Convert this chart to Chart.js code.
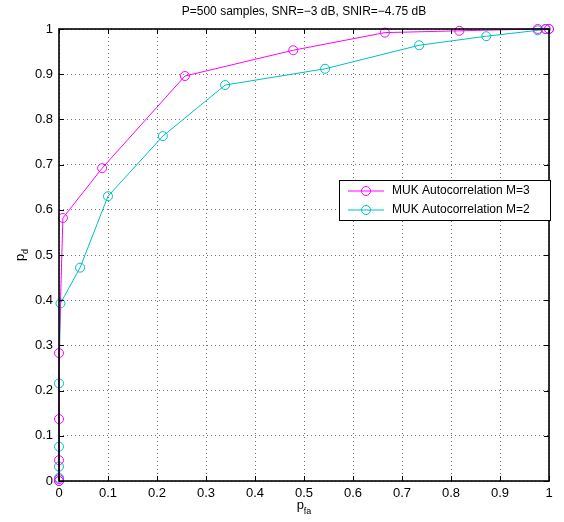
<!DOCTYPE html>
<html>
<head>
<meta charset="utf-8">
<script src="https://cdn.jsdelivr.net/npm/chart.js@4/dist/chart.umd.min.js"></script>
<style>
html,body{margin:0;padding:0;background:#fff;}
#wrap{width:564px;height:522px;}
</style>
</head>
<body>
<div id="wrap"><canvas id="c" width="564" height="522"></canvas></div>
<script>
const titleText = "P=500 samples, SNR=\u22123 dB, SNIR=\u22124.75 dB";
const xTitle = ["p", "fa"];
const yTitle = ["p", "d"];
const tickValues = [0, 0.1, 0.2, 0.3, 0.4, 0.5, 0.6, 0.7, 0.8, 0.9, 1];
const tickLabels = ["0", "0.1", "0.2", "0.3", "0.4", "0.5", "0.6", "0.7", "0.8", "0.9", "1"];

const seriesNames = ["MUK Autocorrelation M=3", "MUK Autocorrelation M=2"];
const m3X = [0, 0, 0, 0, 0, 0.008, 0.088, 0.257, 0.478, 0.665, 0.817, 0.977, 0.993, 1];
const m3Y = [0, 0.004, 0.046, 0.137, 0.283, 0.582, 0.692, 0.896, 0.953, 0.992, 0.996, 1, 1, 1];
const m2X = [0, 0, 0, 0, 0, 0.003, 0.043, 0.1, 0.212, 0.339, 0.543, 0.735, 0.872, 0.977, 0.993, 1];
const m2Y = [0, 0.007, 0.032, 0.076, 0.216, 0.393, 0.472, 0.63, 0.763, 0.876, 0.912, 0.964, 0.984, 0.997, 1, 1];

const FONT = "'Liberation Sans', Arial, Helvetica, sans-serif";
Chart.defaults.font.family = FONT;
Chart.defaults.font.size = 13;
Chart.defaults.color = '#000';

function pts(xs, ys){ return xs.map((x,i)=>({x:x, y:ys[i]})); }

const colors = ['#ff00ff', '#00bfbf'];

const decor = {
  id: 'decor',
  afterDraw(chart){
    const ctx = chart.ctx, a = chart.chartArea;
    const xs = chart.scales.x, ys = chart.scales.y;
    ctx.save();
    // box
    ctx.strokeStyle = '#000';
    ctx.lineWidth = 1.6;
    ctx.setLineDash([]);
    ctx.strokeRect(a.left, a.top, a.right - a.left, a.bottom - a.top);
    // inward ticks on all sides
    ctx.lineWidth = 1;
    ctx.beginPath();
    tickValues.forEach(v=>{
      const px = Math.round(xs.getPixelForValue(v)) + 0.5;
      ctx.moveTo(px, a.bottom); ctx.lineTo(px, a.bottom - 5);
      ctx.moveTo(px, a.top); ctx.lineTo(px, a.top + 5);
      const py = Math.round(ys.getPixelForValue(v)) + 0.5;
      ctx.moveTo(a.left, py); ctx.lineTo(a.left + 5, py);
      ctx.moveTo(a.right, py); ctx.lineTo(a.right - 5, py);
    });
    ctx.stroke();
    // title
    ctx.fillStyle = '#000';
    ctx.font = '12px ' + FONT;
    ctx.textAlign = 'center';
    ctx.textBaseline = 'middle';
    ctx.fillText(titleText, (a.left + a.right)/2, 12);
    // x axis title with subscript
    const cx = (a.left + a.right)/2;
    ctx.textAlign = 'left';
    ctx.textBaseline = 'alphabetic';
    ctx.font = '13px ' + FONT;
    const w1 = ctx.measureText(xTitle[0]).width;
    ctx.font = '9px ' + FONT;
    const w2 = ctx.measureText(xTitle[1]).width;
    let sx = cx - (w1 + w2)/2;
    ctx.font = '13px ' + FONT;
    ctx.fillText(xTitle[0], sx, 509);
    ctx.font = '9px ' + FONT;
    ctx.fillText(xTitle[1], sx + w1, 514);
    // y axis title rotated
    ctx.save();
    ctx.translate(24, (a.top + a.bottom)/2);
    ctx.rotate(-Math.PI/2);
    ctx.font = '13px ' + FONT;
    const v1 = ctx.measureText(yTitle[0]).width;
    ctx.font = '9px ' + FONT;
    const v2 = ctx.measureText(yTitle[1]).width;
    let sy = -(v1 + v2)/2;
    ctx.font = '13px ' + FONT;
    ctx.fillText(yTitle[0], sy, 0);
    ctx.font = '9px ' + FONT;
    ctx.fillText(yTitle[1], sy + v1, 4);
    ctx.restore();
    // legend
    const L = 339, T = 180, R = 550, B = 220;
    ctx.fillStyle = '#fff';
    ctx.fillRect(L, T, R-L, B-T);
    ctx.strokeStyle = '#000';
    ctx.lineWidth = 1;
    ctx.strokeRect(L+0.5, T+0.5, R-L, B-T);
    chart.data.datasets.forEach((ds, i)=>{
      const y = 191 + i*19;
      ctx.strokeStyle = ds.borderColor;
      ctx.lineWidth = 1;
      ctx.beginPath(); ctx.moveTo(348, y); ctx.lineTo(384, y); ctx.stroke();
      ctx.beginPath(); ctx.arc(366, y, 4.5, 0, Math.PI*2); ctx.stroke();
      ctx.fillStyle = '#000';
      ctx.font = '12px ' + FONT;
      ctx.textAlign = 'left';
      ctx.textBaseline = 'middle';
      ctx.fillText(ds.label, 392, y);
    });
    ctx.restore();
  }
};

new Chart(document.getElementById('c'), {
  type: 'line',
  data: {
    datasets: [
      {label: seriesNames[0], data: pts(m3X, m3Y), borderColor: colors[0], backgroundColor: 'rgba(0,0,0,0)',
       borderWidth: 1, pointRadius: 4.5, pointBorderWidth: 1, pointStyle: 'circle', pointBackgroundColor: 'rgba(0,0,0,0)',
       tension: 0, clip: false},
      {label: seriesNames[1], data: pts(m2X, m2Y), borderColor: colors[1], backgroundColor: 'rgba(0,0,0,0)',
       borderWidth: 1, pointRadius: 4.5, pointBorderWidth: 1, pointStyle: 'circle', pointBackgroundColor: 'rgba(0,0,0,0)',
       tension: 0, clip: false}
    ]
  },
  options: {
    responsive: false,
    animation: false,
    events: [],
    layout: {padding: {left: 0, top: 29, right: 15, bottom: 0}},
    plugins: {legend: {display: false}, title: {display: false}, tooltip: {enabled: false}},
    scales: {
      x: {
        type: 'linear', min: 0, max: 1,
        afterFit(s){ s.height = 41; },
        afterBuildTicks(s){ s.ticks = tickValues.map(v=>({value: v})); },
        ticks: {padding: 5, maxRotation: 0, autoSkip: false,
          callback: (v)=>{ const i = tickValues.findIndex(t=>Math.abs(t-v)<1e-9); return i>=0 ? tickLabels[i] : ''; }},
        grid: {color: 'rgba(0,0,0,0.55)', lineWidth: 1, drawTicks: false},
        border: {display: false, dash: [1, 3]}
      },
      y: {
        type: 'linear', min: 0, max: 1,
        afterFit(s){ s.width = 59; },
        afterBuildTicks(s){ s.ticks = tickValues.map(v=>({value: v})); },
        ticks: {padding: 6, autoSkip: false,
          callback: (v)=>{ const i = tickValues.findIndex(t=>Math.abs(t-v)<1e-9); return i>=0 ? tickLabels[i] : ''; }},
        grid: {color: 'rgba(0,0,0,0.55)', lineWidth: 1, drawTicks: false},
        border: {display: false, dash: [1, 3]}
      }
    }
  },
  plugins: [decor]
});
</script>
</body>
</html>
